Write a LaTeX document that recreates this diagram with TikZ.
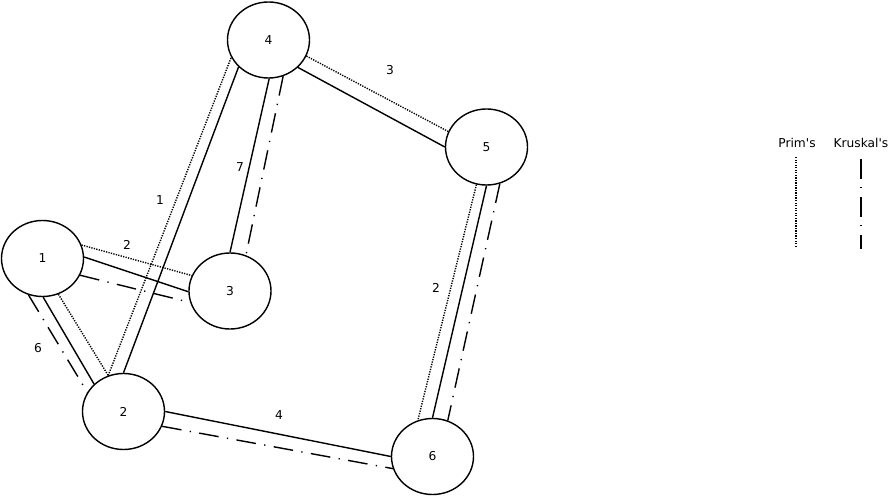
\documentclass[tikz,border=0pt]{standalone}
\usepackage{fontspec}
\setmainfont{DejaVu Sans}[Ligatures=TeXOff]
\usetikzlibrary{shapes.geometric}

\begin{document}
\begin{tikzpicture}[x=0.025cm, y=-0.025cm]
		\tikzstyle{Vertex} = [ellipse, minimum width=2.05cm, minimum height=1.9cm, inner sep=0pt, draw=black, line width = 1pt, font=\fontsize{8.7}{10}\selectfont]
		\tikzstyle{Weight} = [inner sep=1pt, font=\fontsize{8.7}{10}\selectfont]
		\tikzstyle{Edge} = [line width = 1pt]
		\tikzstyle{Prim} = [line width = 1pt, dash pattern=on 0.9pt off 0.9pt]
		\tikzstyle{Kruskal} = [line width = 1pt, dash pattern=on 14pt off 6pt on 0.9pt off 6pt]
		
		\useasboundingbox (0,0) rectangle (896,498);
		
		\node (1) [Vertex] at (42.5,258.5) {1};
		\node (2) [Vertex] at (123.5,411.5) {2};
		\node (3) [Vertex] at (230,291) {3};
		\node (4) [Vertex] at (268.5,40) {4};
		\node (5) [Vertex] at (486.5,147) {5};
		\node (6) [Vertex] at (432.5,456.5) {6};
		
		% 1 -- 3
		\draw[Edge] (1.2) -- (3.181);
		\draw[Prim] (1.19) -- (3.158);
		\draw[Kruskal] (1.336) -- (3.196);
		% 1 -- 2
		\draw[Edge] (1.271) -- (2.137);
		\draw[Prim] (1.294) -- (2.113);
		\draw[Kruskal] (1.249) -- (2.152);
		% 2 -- 4
		\draw[Edge] (2.90) -- (4.222);
		\draw[Prim] (2.113) -- (4.205);
		% 4 -- 3
		\draw[Edge] (4.271) -- (3.90);
		\draw[Kruskal] (4.292) -- (3.66);
		% 4 -- 5
		\draw[Edge] (4.317) -- (5.180);
		\draw[Prim] (4.337) -- (5.158);
		% 5 -- 6
		\draw[Edge] (5.270) -- (6.90);
		\draw[Prim] (5.255) -- (6.112);
		\draw[Kruskal] (5.290) -- (6.67);
		% 2 -- 6
		\draw[Edge] (2.0) -- (6.180);
		\draw[Kruskal] (2.339) -- (6.197);
		
		% weights
		\node (w12) [Weight] at (38,348) {6};
		\node (w13) [Weight] at (127,245) {2};
		\node (w24) [Weight] at (160,200) {1};
		\node (w34) [Weight] at (240,167) {7};
		\node (w45) [Weight] at (390,70) {3};
		\node (w56) [Weight] at (436,288) {2};
		\node (w26) [Weight] at (279,415) {4};
		
		% legend
		\node (prim) [Weight] at (797,143) {Prim's};
		\node (kruskal) [Weight] at (861,143) {Kruskal's};
		\coordinate (primtop) at (796,157);
		\coordinate (primbot) at (796,248);
		\coordinate (kruskaltop) at (861,159);
		\coordinate (kruskalbot) at (861,249);
		\draw[Prim] (primtop) -- (primbot);
		\draw[Kruskal] (kruskaltop) -- (kruskalbot);
\end{tikzpicture}
\end{document}
